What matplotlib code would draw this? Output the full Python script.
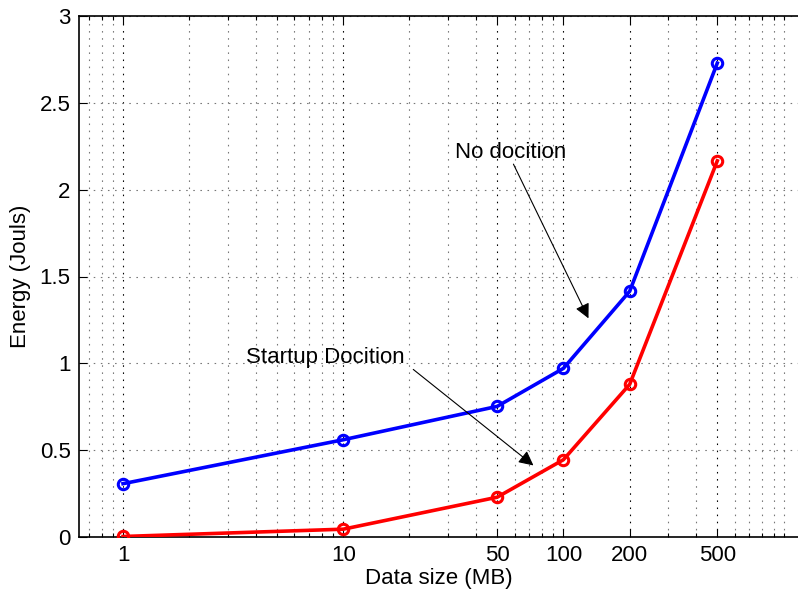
import numpy as np
import matplotlib.pyplot as plt
from matplotlib.ticker import FixedLocator, NullFormatter

plt.rcParams['font.family'] = ['Liberation Sans', 'DejaVu Sans']

# energy vs data size
data_size = [1, 10, 50, 100, 200, 500]
no_docition = [0.307, 0.56, 0.752, 0.971, 1.415, 2.729]
startup_docition = [0.003, 0.045, 0.229, 0.445, 0.879, 2.166]

xticks = [1, 10, 50, 100, 200, 500]
xtick_labels = ['1', '10', '50', '100', '200', '500']
yticks = [0, 0.5, 1, 1.5, 2, 2.5, 3]
ytick_labels = ['0', '0.5', '1', '1.5', '2', '2.5', '3']

fig = plt.figure(figsize=(7.98, 5.98), dpi=100)
ax = fig.add_axes([79 / 798, 61 / 598, 1 - 79 / 798 + 0.002, 521 / 598])

dots = (0, (1.4, 5.0))
ax.plot(data_size, no_docition, color='#0000ff', lw=2.6, marker='o', ms=7.5,
        mfc='none', mew=2.2, zorder=3)
ax.plot(data_size, startup_docition, color='#ff0000', lw=2.6, marker='o', ms=7.5,
        mfc='none', mew=2.2, zorder=3)

ax.set_xscale('log')
ax.set_xlim(10 ** (-44 / 220), 10 ** (676 / 220))
ax.set_ylim(0, 3)

ax.xaxis.set_major_locator(FixedLocator(xticks))
ax.set_xticklabels(xtick_labels)
minor = [m * 10 ** e for e in range(-1, 4) for m in range(1, 10)
         if m * 10 ** e not in xticks]
ax.xaxis.set_minor_locator(FixedLocator(minor))
ax.xaxis.set_minor_formatter(NullFormatter())
ax.set_yticks(yticks)
ax.set_yticklabels(ytick_labels)

ax.grid(True, which='major', axis='x', color='black', ls=dots, lw=0.8)
ax.grid(True, which='minor', axis='x', color='#777777', ls=dots, lw=0.8)
ax.grid(True, which='major', axis='y', color='#777777', ls=dots, lw=0.8)

ax.tick_params(which='both', direction='in', top=True, right=False,
               labelsize=16, width=0.8, color='black', pad=6)
ax.tick_params(which='major', length=6)
ax.tick_params(which='minor', length=3)
ax.spines['right'].set_visible(False)
for s in ['left', 'bottom', 'top']:
    ax.spines[s].set_linewidth(1.2)

ax.set_xlabel('Data size (MB)', fontsize=16, labelpad=1)
ax.set_ylabel('Energy (Jouls)', fontsize=16, labelpad=6)

arrow = dict(arrowstyle='-|>', color='black', lw=0.8, mutation_scale=22,
             shrinkA=0, shrinkB=0)
ax.text(32.3, 2.216, 'No docition', fontsize=16, va='center', ha='left')
ax.annotate('', xy=(130, 1.259), xytext=(59.3, 2.147), arrowprops=arrow)
ax.text(3.62, 1.035, 'Startup Docition', fontsize=16, va='center', ha='left')
ax.annotate('', xy=(73.1, 0.412), xytext=(20.8, 0.965), arrowprops=arrow)

fig.savefig('out.png', dpi=100)
